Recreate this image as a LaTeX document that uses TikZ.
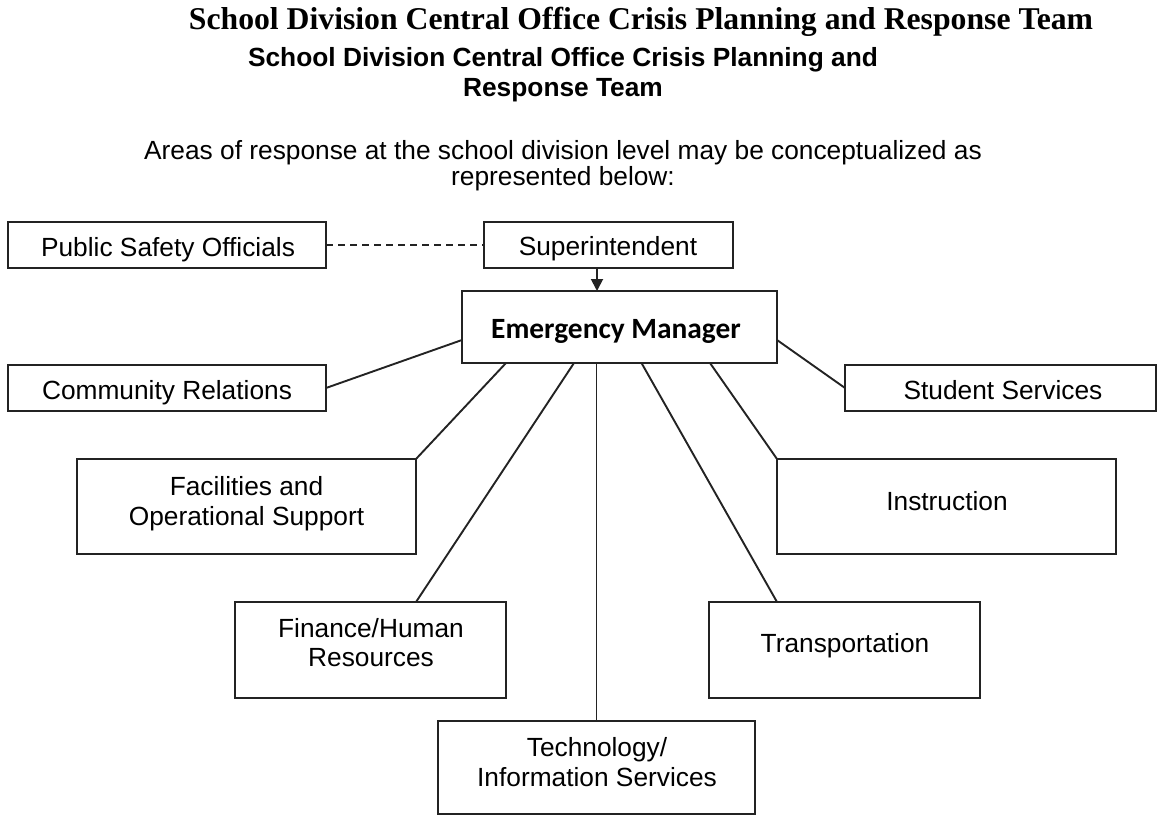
\documentclass[tikz,border=0pt]{standalone}
\usepackage{fontspec}
\setmainfont{Liberation Sans}
\newfontfamily\titlefont{Liberation Serif}
\newfontfamily\calfont{Carlito}
\usetikzlibrary{arrows.meta,calc}
\definecolor{boxcol}{RGB}{35,35,35}
\begin{document}
\begin{tikzpicture}[x=1pt,y=-1pt,
  box/.style={draw=boxcol,line width=2pt,rectangle,inner sep=0pt,outer sep=0pt},
  txt/.style={anchor=base,inner sep=0pt,font=\fontsize{26.3}{30}\selectfont},
  conn/.style={draw=boxcol,line width=1.9pt}]
\useasboundingbox (0,0) rectangle (1157,816);

% headings
\node[anchor=base,inner sep=0pt,font=\titlefont\bfseries\fontsize{31.7}{36}\selectfont] (t1) at (641,29.5) {School Division Central Office Crisis Planning and Response Team};
\node[txt,font=\bfseries\fontsize{26.3}{30}\selectfont] (t2a) at (563,66.7) {School Division Central Office Crisis Planning and};
\node[txt,font=\bfseries\fontsize{26.3}{30}\selectfont] (t2b) at (563,96.5) {Response Team};
\node[txt] (s1) at (563,159.5) {Areas of response at the school division level may be conceptualized as};
\node[txt] (s2) at (563,185.7) {represented below:};

% boxes
\node[box,minimum width=318pt,minimum height=46pt] (pso) at (167,245) {};
\node[box,minimum width=249pt,minimum height=46pt] (sup) at (608.5,245) {};
\node[box,minimum width=315pt,minimum height=72pt] (em) at (619.5,327) {};
\node[box,minimum width=318pt,minimum height=46pt] (cr) at (167,388) {};
\node[box,minimum width=311pt,minimum height=46pt] (ss) at (1000.5,388) {};
\node[box,minimum width=339pt,minimum height=95pt] (fac) at (246.5,506.5) {};
\node[box,minimum width=339pt,minimum height=95pt] (ins) at (946.5,506.5) {};
\node[box,minimum width=271pt,minimum height=96pt] (fin) at (370.5,650) {};
\node[box,minimum width=271pt,minimum height=96pt] (tra) at (844.5,650) {};
\node[box,minimum width=317pt,minimum height=93pt] (tec) at (596.5,767.5) {};

% box texts
\node[txt] (psot) at (168,256) {Public Safety Officials};
\node[txt] (supt) at (608,255) {Superintendent};
\node[anchor=base,inner sep=0pt,font=\calfont\bfseries\fontsize{29.4}{34}\selectfont] (emt) at (616,338.3) {Emergency Manager};
\node[txt] (crt) at (167,399) {Community Relations};
\node[txt] (sst) at (1003,399) {Student Services};
\node[txt] (fact1) at (246.5,495) {Facilities and};
\node[txt] (fact2) at (246.5,525) {Operational Support};
\node[txt] (inst) at (947,510) {Instruction};
\node[txt] (fint1) at (371,637.3) {Finance/Human};
\node[txt] (fint2) at (371,666.7) {Resources};
\node[txt] (trat) at (845,652.3) {Transportation};
\node[txt] (tect1) at (597,756.7) {Technology/};
\node[txt] (tect2) at (597,786.7) {Information Services};

% connectors
\draw[conn,dash pattern=on 7pt off 5pt] (pso.east) -- (sup.west);
\coordinate (ax) at ($(sup.south)+(-11.5,0)$);
\draw[conn,-{Triangle[length=12pt,width=12pt]}] (ax) -- (ax |- em.north);
\draw[conn] (cr.east) -- ($(em.west)+(0,13)$);
\draw[conn] (ss.west) -- ($(em.east)+(0,13)$);
\draw[conn] (fac.north east) -- ($(em.south)+(-113.5,0)$);
\draw[conn] ($(fin.north)+(45.5,0)$) -- ($(em.south)+(-45.5,0)$);
\draw[conn] (tec.north) -- (tec.north |- em.south);
\draw[conn] ($(tra.north)+(-67.5,0)$) -- ($(em.south)+(22,0)$);
\draw[conn] (ins.north west) -- ($(em.south)+(90.5,0)$);
\end{tikzpicture}
\end{document}
